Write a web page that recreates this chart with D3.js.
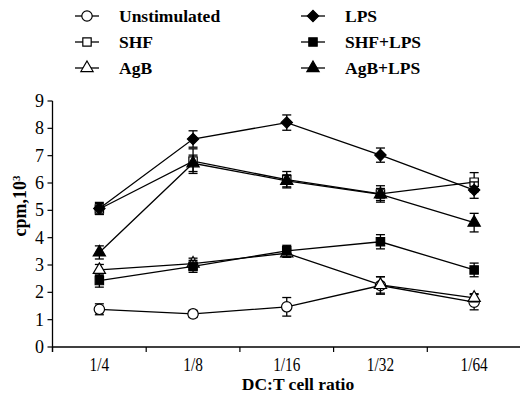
<!DOCTYPE html>
<html>
<head>
<meta charset="utf-8">
<script src="https://cdn.jsdelivr.net/npm/d3@7"></script>
<style>
  body { margin: 0; background: #fff; }
  svg text { font-family: "Liberation Serif", "Times New Roman", serif; fill: #000; }
</style>
</head>
<body>
<div id="chart"></div>
<script>
// categories (DC:T cell ratio)
var ratios = ["1/4", "1/8", "1/16", "1/32", "1/64"];
var yTicks = [0, 1, 2, 3, 4, 5, 6, 7, 8, 9];

// cpm x10^3
var unstimulated    = [1.38, 1.21, 1.47, 2.25, 1.64];
var unstimulatedErr = [0.20, 0.13, 0.34, 0.32, 0.28];
var shf             = [5.05, 6.80, 6.12, 5.60, 6.03];
var shfErr          = [0.20, 0.45, 0.30, 0.30, 0.35];
var agb             = [2.82, 3.05, 3.43, 2.27, 1.80];
var agbErr          = [0.20, 0.20, 0.15, 0.30, 0.15];
var lps             = [5.07, 7.61, 8.21, 7.02, 5.74];
var lpsErr          = [0.22, 0.30, 0.28, 0.26, 0.30];
var shfLps          = [2.43, 2.95, 3.52, 3.85, 2.82];
var shfLpsErr       = [0.24, 0.22, 0.20, 0.26, 0.25];
var agbLps          = [3.46, 6.72, 6.08, 5.58, 4.55];
var agbLpsErr       = [0.24, 0.30, 0.22, 0.22, 0.34];

var series = [
  {name: "Unstimulated", values: unstimulated, err: unstimulatedErr, shape: "circle",   fill: "#fff"},
  {name: "SHF",          values: shf,          err: shfErr,          shape: "square",   fill: "#fff"},
  {name: "AgB",          values: agb,          err: agbErr,          shape: "triangle", fill: "#fff"},
  {name: "LPS",          values: lps,          err: lpsErr,          shape: "diamond",  fill: "#000"},
  {name: "SHF+LPS",      values: shfLps,       err: shfLpsErr,       shape: "square",   fill: "#000"},
  {name: "AgB+LPS",      values: agbLps,       err: agbLpsErr,       shape: "triangle", fill: "#000"}
];

var W = 520, H = 396;
var plotLeft = 52.5, plotRight = 521, plotTop = 101, plotBottom = 347;

var svg = d3.select("#chart").append("svg")
    .attr("width", W)
    .attr("height", H);

var x = d3.scaleBand().domain(ratios).range([plotLeft, plotRight]);
var y = d3.scaleLinear().domain([0, 9]).range([plotBottom, plotTop]);

var symbolFor = {
  circle:   d3.symbol().type(d3.symbolCircle).size(85),
  square:   d3.symbol().type(d3.symbolSquare).size(70),
  triangle: d3.symbol().type(d3.symbolTriangle).size(65),
  diamond:  d3.symbol().type(d3.symbolSquare).size(64)
};
var rotFor = {circle: 0, square: 0, triangle: 0, diamond: 45};

// x axis: ticks on category boundaries
svg.append("line")
    .attr("x1", plotLeft).attr("x2", plotRight)
    .attr("y1", plotBottom).attr("y2", plotBottom)
    .attr("stroke", "#000").attr("stroke-width", 1.3);
var bounds = ratios.map(function (r) { return x(r); });
svg.selectAll(".xtick")
    .data(bounds)
    .enter().append("line")
    .attr("x1", function (d) { return d; }).attr("x2", function (d) { return d; })
    .attr("y1", plotBottom).attr("y2", plotBottom + 5)
    .attr("stroke", "#000").attr("stroke-width", 1.2);
svg.selectAll(".xlab")
    .data(ratios)
    .enter().append("text")
    .attr("transform", function (d) {
      return "translate(" + (x(d) + x.bandwidth() / 2) + ",371) scale(0.85,1)";
    })
    .attr("text-anchor", "middle")
    .style("font-size", "18px")
    .text(function (d) { return d; });

// y axis
svg.append("line")
    .attr("x1", plotLeft).attr("x2", plotLeft)
    .attr("y1", plotTop).attr("y2", plotBottom + 5)
    .attr("stroke", "#000").attr("stroke-width", 1.3);
svg.selectAll(".ytick")
    .data(yTicks)
    .enter().append("line")
    .attr("x1", plotLeft - 5).attr("x2", plotLeft)
    .attr("y1", function (d) { return y(d); }).attr("y2", function (d) { return y(d); })
    .attr("stroke", "#000").attr("stroke-width", 1.2);
svg.selectAll(".ylab")
    .data(yTicks)
    .enter().append("text")
    .attr("x", 44)
    .attr("y", function (d) { return y(d) + 6; })
    .attr("text-anchor", "end")
    .style("font-size", "18px")
    .text(function (d) { return d; });

// axis titles
svg.append("text")
    .attr("x", 298).attr("y", 390)
    .attr("text-anchor", "middle")
    .style("font-size", "17.5px")
    .style("font-weight", "bold")
    .text("DC:T cell ratio");

var ytitle = svg.append("text")
    .attr("transform", "translate(26,206) rotate(-90)")
    .attr("text-anchor", "middle")
    .style("font-size", "18px")
    .style("font-weight", "bold");
ytitle.append("tspan").text("cpm,10");
ytitle.append("tspan").attr("dy", -6).style("font-size", "11px").text("3");

// lines
var line = d3.line()
    .x(function (d, i) { return x(ratios[i]) + x.bandwidth() / 2; })
    .y(function (d) { return y(d); });

svg.selectAll(".series-line")
    .data(series)
    .enter().append("path")
    .attr("d", function (s) { return line(s.values); })
    .attr("fill", "none")
    .attr("stroke", "#000")
    .attr("stroke-width", 1.3);

// error bars + markers
series.forEach(function (s) {
  var g = svg.append("g");
  s.values.forEach(function (v, i) {
    var cx = x(ratios[i]) + x.bandwidth() / 2;
    var e = s.err[i];
    g.append("line")
        .attr("x1", cx).attr("x2", cx)
        .attr("y1", y(v - e)).attr("y2", y(v + e))
        .attr("stroke", "#000").attr("stroke-width", 1.3);
    [v - e, v + e].forEach(function (c) {
      g.append("line")
          .attr("x1", cx - 4.5).attr("x2", cx + 4.5)
          .attr("y1", y(c)).attr("y2", y(c))
          .attr("stroke", "#000").attr("stroke-width", 1.3);
    });
  });
  g.selectAll("path")
      .data(s.values)
      .enter().append("path")
      .attr("d", symbolFor[s.shape])
      .attr("transform", function (d, i) {
        return "translate(" + (x(ratios[i]) + x.bandwidth() / 2) + "," + y(d) + ") rotate(" + rotFor[s.shape] + ")";
      })
      .attr("fill", s.fill)
      .attr("stroke", "#000")
      .attr("stroke-width", 1.2);
});

// legend
var legendPos = [[87, 16], [87, 42], [87, 68], [313, 16], [313, 42], [313, 68]];
var legend = svg.append("g");
series.forEach(function (s, i) {
  var p = legendPos[i];
  legend.append("line")
      .attr("x1", p[0] - 12).attr("x2", p[0] + 12)
      .attr("y1", p[1]).attr("y2", p[1])
      .attr("stroke", "#000").attr("stroke-width", 1.3);
  legend.append("path")
      .attr("d", symbolFor[s.shape]())
      .attr("transform", "translate(" + p[0] + "," + p[1] + ") rotate(" + rotFor[s.shape] + ")")
      .attr("fill", s.fill)
      .attr("stroke", "#000")
      .attr("stroke-width", 1.2);
  legend.append("text")
      .attr("x", p[0] + 32)
      .attr("y", p[1] + 6)
      .style("font-size", "17.5px")
      .style("font-weight", "bold")
      .text(s.name);
});
</script>
</body>
</html>
